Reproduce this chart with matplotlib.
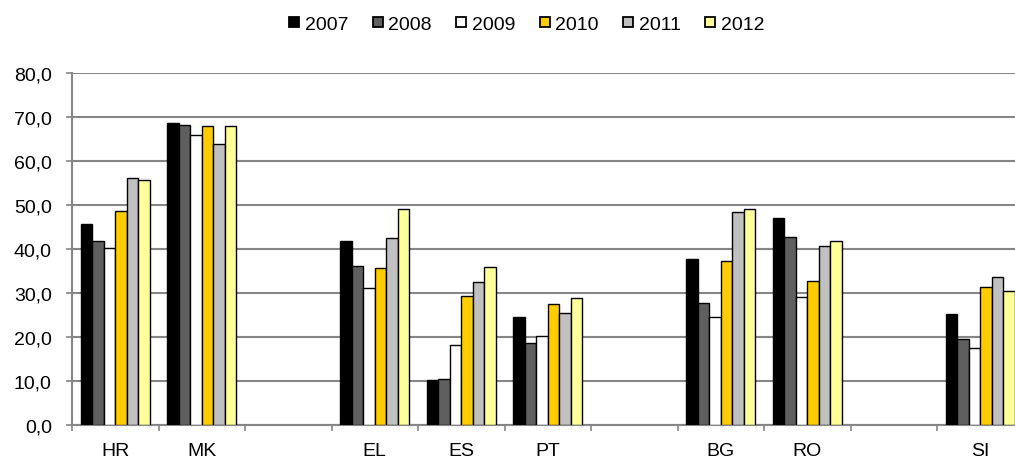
import numpy as np
import matplotlib.pyplot as plt
from matplotlib.lines import Line2D

plt.rcParams['font.family'] = ['Liberation Sans', 'DejaVu Sans']

# Data (blank slots separate country groups)
countries = ['HR', 'MK', '', 'EL', 'ES', 'PT', '', 'BG', 'RO', '', 'SI']
years = ['2007', '2008', '2009', '2010', '2011', '2012']

v2007 = [45.7, 68.6, np.nan, 41.8, 10.2, 24.6, np.nan, 37.7, 47.1, np.nan, 25.2]
v2008 = [41.9, 68.2, np.nan, 36.1, 10.4, 18.6, np.nan, 27.7, 42.8, np.nan, 19.5]
v2009 = [40.2, 65.8, np.nan, 31.1, 18.2, 20.3, np.nan, 24.5, 29.2, np.nan, 17.6]
v2010 = [48.6, 67.9, np.nan, 35.6, 29.3, 27.6, np.nan, 37.3, 32.8, np.nan, 31.4]
v2011 = [56.2, 63.8, np.nan, 42.6, 32.4, 25.4, np.nan, 48.5, 40.7, np.nan, 33.6]
v2012 = [55.6, 68.0, np.nan, 49.1, 35.8, 28.8, np.nan, 49.2, 41.9, np.nan, 30.4]
series = [v2007, v2008, v2009, v2010, v2011, v2012]

colors = ['#000000', '#5f5f5f', '#ffffff', '#ffcc00', '#c0c0c0', '#ffff99']

fig = plt.figure(figsize=(10.15, 4.6), dpi=100)
# axes runs past the right edge of the picture, like the original
ax = fig.add_axes([72 / 1015, 34 / 460, 951.5 / 1015, 352 / 460])

x = np.arange(len(countries))
bw = 1 / 7.5
for i, (vals, c, lab) in enumerate(zip(series, colors, years)):
    ax.bar(x + (i - 2.5) * bw, vals, width=bw, color=c, edgecolor='black',
           linewidth=1.0, label=lab, zorder=3)

ax.set_xlim(-0.5, len(countries) - 0.5)
ax.set_ylim(0, 80)
ax.set_yticks(np.arange(0, 81, 10))
ax.set_yticklabels([f'{v:.1f}'.replace('.', ',') for v in np.arange(0, 81, 10)])
ax.yaxis.grid(True, color='#868686', linewidth=1.5, zorder=0)

ax.set_xticks(x)
ax.set_xticklabels(countries)
ax.set_xticks(np.arange(-0.5, len(countries)), minor=True)
ax.tick_params(axis='x', which='major', length=0, pad=12, labelsize=14)
ax.tick_params(axis='x', which='minor', length=4.5, width=1.2, color='#868686')
ax.tick_params(axis='y', length=4.5, width=1.2, color='#868686', labelsize=14, pad=10)

for s in ['top', 'right']:
    ax.spines[s].set_visible(False)
for s in ['left', 'bottom']:
    ax.spines[s].set_color('#868686')
    ax.spines[s].set_linewidth(1.5)

# square legend keys like the original
handles = [Line2D([], [], linestyle='none', marker='s', markersize=6.5,
                  markerfacecolor=c, markeredgecolor='black', markeredgewidth=1.3)
           for c in colors]
fig.legend(handles, years, loc='center', bbox_to_anchor=(527 / 1015, 1 - 25 / 460),
           ncol=6, frameon=False, fontsize=14, handlelength=0.46,
           handletextpad=0.3, columnspacing=1.3)

fig.savefig('out.png', dpi=100)
